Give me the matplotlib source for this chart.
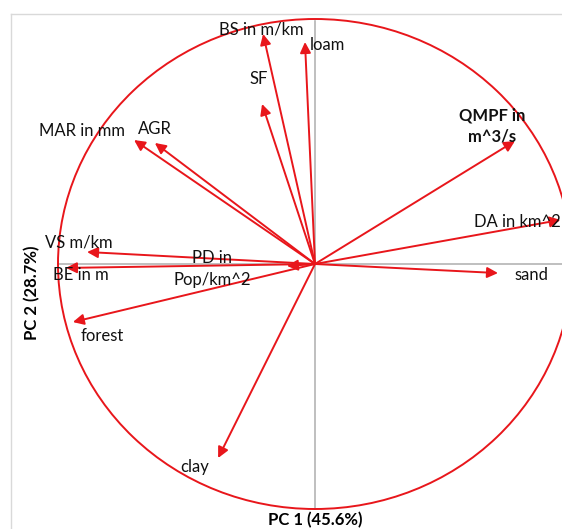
import matplotlib.pyplot as plt
from matplotlib.patches import Circle
from matplotlib.lines import Line2D

# loadings on PC1 / PC2
variables = ['BS in m/km', 'loam', 'SF', 'AGR', 'MAR in mm', 'QMPF in\nm^3/s',
             'DA in km^2', 'sand', 'VS m/km', 'BE in m', 'PD in\nPop/km^2',
             'forest', 'clay']
pc1 = [-0.202, -0.039, -0.206, -0.623, -0.704, 0.778,
       0.955, 0.712, -0.887, -0.969, -0.109, -0.942, -0.377]
pc2 = [0.939, 0.906, 0.653, 0.494, 0.506, 0.502,
       0.180, -0.037, 0.049, -0.016, -0.008, -0.237, -0.792]

# label placement (x, y, ha)
label_pos = [(-0.21, 0.959, 'center'), (-0.019, 0.894, 'left'),
             (-0.218, 0.755, 'center'), (-0.623, 0.551, 'center'),
             (-0.739, 0.543, 'right'), (0.689, 0.563, 'center'),
             (0.957, 0.171, 'right'), (0.778, -0.045, 'left'),
             (-1.05, 0.086, 'left'), (-1.019, -0.045, 'left'),
             (-0.40, -0.02, 'center'), (-0.914, -0.294, 'left'),
             (-0.525, -0.829, 'left')]

plt.rcParams['font.family'] = ['Lato', 'DejaVu Sans']
red = '#e8161b'

fig = plt.figure(figsize=(5.62, 5.29), dpi=100)
ax = fig.add_axes([0, 0, 1, 1])
ax.set_xlim(-315 / 257, 247 / 257)
ax.set_ylim(-265 / 245, 264 / 245)
ax.axis('off')

# outer frame
fx, fy = 11 / 562, 1 - 14 / 529
fig.add_artist(Line2D([fx, 1], [fy, fy], color='#d9d9d9', lw=1))
fig.add_artist(Line2D([fx, fx], [fy, 0], color='#d9d9d9', lw=1))

# axes through origin
ax.plot([0, 0], [-1, 0.99], color='#b4b4b4', lw=1.2, zorder=1)
ax.plot([-1, 1.2], [0, 0], color='#b4b4b4', lw=1.2, zorder=1)

ax.add_patch(Circle((0, 0), 1, fill=False, ec=red, lw=1.4, zorder=2))

for name, x, y, (lx, ly, ha) in zip(variables, pc1, pc2, label_pos):
    ax.annotate('', xy=(x, y), xytext=(0, 0), annotation_clip=False,
                arrowprops=dict(arrowstyle='-|>', color=red, lw=1.4,
                                mutation_scale=16, shrinkA=0, shrinkB=0),
                zorder=3)
    weight = 'bold' if name.startswith('QMPF') else 'normal'
    ax.text(lx, ly, name, ha=ha, va='center', fontsize=12,
            fontweight=weight, color='#111111', linespacing=1.45, zorder=4)

ax.text(0, -1.045, 'PC 1 (45.6%)', ha='center', va='center',
        fontsize=12, fontweight='bold')
ax.text(-1.101, -0.118, 'PC 2 (28.7%)', ha='center', va='center',
        rotation=90, fontsize=12, fontweight='bold')

fig.savefig('out.png', dpi=100)
